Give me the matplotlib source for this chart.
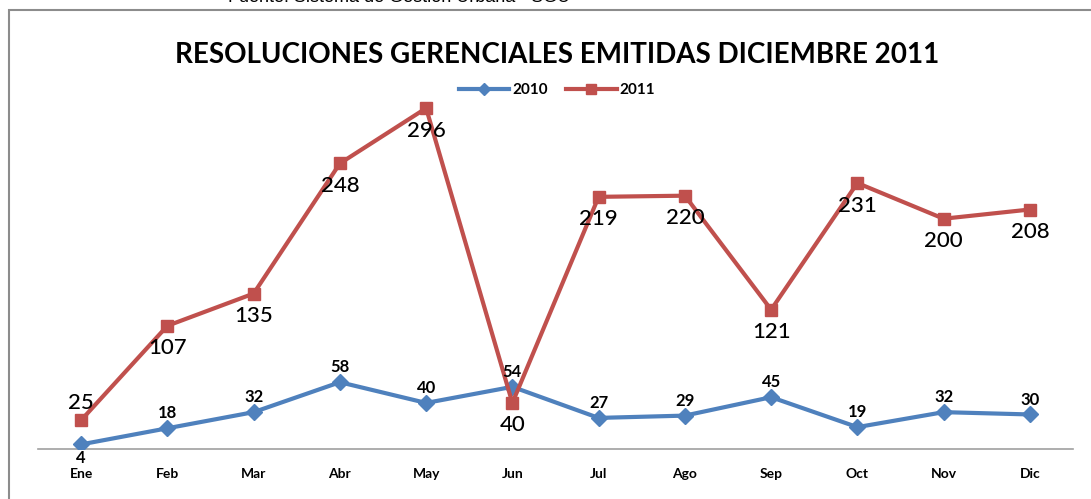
import matplotlib.pyplot as plt
from matplotlib.patches import Rectangle

meses = ['Ene', 'Feb', 'Mar', 'Abr', 'May', 'Jun', 'Jul', 'Ago', 'Sep', 'Oct', 'Nov', 'Dic']
res_2010 = [4, 18, 32, 58, 40, 54, 27, 29, 45, 19, 32, 30]
res_2011 = [25, 107, 135, 248, 296, 40, 219, 220, 121, 231, 200, 208]

azul = '#4F81BD'
rojo = '#C0504D'
fuente = 'Lato'

W, H = 1091, 499
fig = plt.figure(figsize=(W / 100, H / 100), dpi=100)
ax = fig.add_axes([38 / W, 1 - 449 / H, (1073 - 38) / W, (449 - 46) / H])

x = list(range(len(meses)))
ax.plot(x, res_2010, color=azul, lw=3, marker='D', ms=8, label='2010', zorder=3)
ax.plot(x, res_2011, color=rojo, lw=3, marker='s', ms=9, label='2011', zorder=3)

# etiquetas de datos
for i, v in enumerate(res_2011):
    if i == 0:
        ax.annotate(str(v), (i, v), xytext=(0, 5), textcoords='offset points',
                    ha='center', va='bottom', fontsize=16, family=fuente, fontweight='medium')
    else:
        ax.annotate(str(v), (i, v), xytext=(0, -9), textcoords='offset points',
                    ha='center', va='top', fontsize=16, family=fuente, fontweight='medium')
for i, v in enumerate(res_2010):
    if i == 0:
        ax.annotate(str(v), (i, v), xytext=(0, -4), textcoords='offset points',
                    ha='center', va='top', fontsize=12, family=fuente, fontweight='bold')
    else:
        ax.annotate(str(v), (i, v), xytext=(0, 5), textcoords='offset points',
                    ha='center', va='bottom', fontsize=12, family=fuente, fontweight='bold')

ax.set_xlim(-0.5, len(meses) - 0.5)
ax.set_ylim(0, 350)
ax.set_xticks(x)
ax.set_xticklabels(meses, family=fuente, fontweight='bold', fontsize=10)
ax.tick_params(axis='x', length=0, pad=14)
ax.set_yticks([])
for s in ['top', 'right', 'left']:
    ax.spines[s].set_visible(False)
ax.spines['bottom'].set_color('#A0A0A0')
ax.spines['bottom'].set_linewidth(1.2)
ax.patch.set_alpha(0)

fig.text(557 / W, 1 - 55 / H, 'RESOLUCIONES GERENCIALES EMITIDAS DICIEMBRE 2011',
         ha='center', va='center', fontsize=20, fontweight='bold', family=fuente)

leg = fig.legend(loc='center', bbox_to_anchor=(557 / W, 1 - 90 / H), ncol=2, frameon=False,
                 prop={'family': fuente, 'weight': 'bold', 'size': 11},
                 handlelength=3.3, handletextpad=0.2, columnspacing=1.2, markerscale=0.8)

# pie de fuente, recortado en el borde superior como en el original
fig.text(228 / W, 1 + 2 / H, 'Fuente: Sistema de Gestión Urbana - SGU',
         ha='left', va='center', fontsize=13, family='Liberation Sans')

fig.add_artist(Rectangle((9 / W, -0.1), 1.2, 1.1 - 10 / H, transform=fig.transFigure,
                         fill=False, ec='#8C8C8C', lw=1.5))

fig.savefig('out.png', dpi=100)
